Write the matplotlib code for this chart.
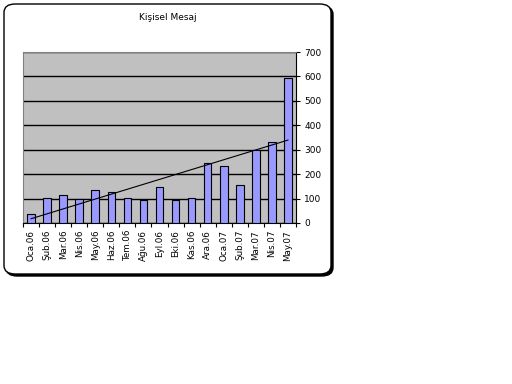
import numpy as np
import matplotlib.pyplot as plt
from matplotlib.patches import FancyBboxPatch

months = ["Oca.06", "Şub.06", "Mar.06", "Nis.06", "May.06", "Haz.06", "Tem.06",
          "Ağu.06", "Eyl.06", "Eki.06", "Kas.06", "Ara.06", "Oca.07", "Şub.07",
          "Mar.07", "Nis.07", "May.07"]
messages = [38, 104, 116, 98, 136, 128, 104, 95, 149, 95, 104, 247, 235, 157,
            300, 333, 595]
yticks = [0, 100, 200, 300, 400, 500, 600, 700]

fig = plt.figure(figsize=(5.12, 3.84), dpi=100)
W, H = 512, 384

# card with thick right/bottom edge
shadow = FancyBboxPatch((6 / W, 1 - 276 / H), 327 / W, 270 / H,
                        boxstyle="round,pad=0,rounding_size=0.022",
                        transform=fig.transFigure, facecolor="black",
                        edgecolor="black", zorder=0)
card = FancyBboxPatch((4 / W, 1 - 274 / H), 327 / W, 270 / H,
                      boxstyle="round,pad=0,rounding_size=0.022",
                      transform=fig.transFigure, facecolor="white",
                      edgecolor="black", linewidth=1, zorder=1)
fig.patches.extend([shadow, card])

ax = fig.add_axes([23 / W, 1 - 223 / H, 273 / W, 171 / H], zorder=2)
ax.set_facecolor("#C0C0C0")
x = np.arange(len(months))
ax.bar(x, messages, width=0.47, color="#9999FF", edgecolor="black",
       linewidth=0.8, zorder=3)

k, b = np.polyfit(x, messages, 1)
ax.plot(x, k * x + b, color="black", linewidth=0.8, zorder=4)

ax.set_xlim(-0.5, len(months) - 0.5)
ax.set_ylim(0, 700)
ax.set_yticks(yticks)
ax.yaxis.tick_right()
ax.grid(axis="y", color="black", linewidth=1, zorder=1)
ax.set_axisbelow(True)
ax.set_xticks(np.arange(len(months) + 1) - 0.5, minor=False)
ax.set_xticklabels([])
ax.set_xticks(x, minor=True)
ax.set_xticklabels(months, minor=True, rotation=90, fontsize=6.3)
ax.tick_params(axis="x", which="minor", length=0, pad=5)
ax.tick_params(axis="x", which="major", length=3, direction="out")
ax.tick_params(axis="y", labelsize=6.5, length=3, direction="out", pad=3)
for side in ["top", "left"]:
    ax.spines[side].set_color("#808080")
ax.spines["right"].set_color("black")
ax.spines["bottom"].set_color("black")

fig.text(168 / W, 1 - 18 / H, "Kişisel Mesaj", ha="center", va="center",
         fontsize=6.5)

fig.savefig("out.png", dpi=100)
